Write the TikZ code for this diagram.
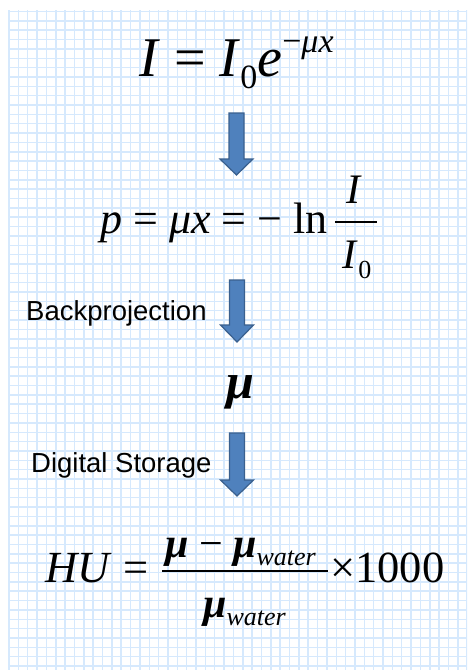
\documentclass[tikz,border=0pt]{standalone}
\usepackage{fontspec}
\setmainfont{Liberation Serif}
\newfontfamily\labelsans{Liberation Sans}
\definecolor{gridblue}{RGB}{214,233,253}
\definecolor{arrowfill}{RGB}{79,129,189}
\definecolor{arrowedge}{RGB}{58,96,142}
\newcommand\DrawDownArrow[4]{% x center, y top, y head start, y tip
  \filldraw[arrowbox] ({#1-7.5},#2) -- ({#1+7.5},#2) -- ({#1+7.5},#3) -- ({#1+16.5},#3)
    -- (#1,#4) -- ({#1-16.5},#3) -- ({#1-7.5},#3) -- cycle;}
\begin{document}
\begin{tikzpicture}[x=1pt,y=-1pt,
  arrowbox/.style={fill=arrowfill,draw=arrowedge,line width=1.2pt,line join=miter},
  gridline/.style={gridblue,line width=1.5pt},
  eqtext/.style={inner sep=0pt,anchor=base west},
  eqcenter/.style={inner sep=0pt,anchor=base},
  sidelabel/.style={inner sep=0pt,anchor=base west,font=\labelsans\fontsize{27.5}{32}\selectfont},
  fracbar/.style={line width=1.1pt,black}]
\useasboundingbox (0,0) rectangle (467,670);
\fill[white] (0,0) rectangle (467,670);
\begin{scope}
  \clip (8,10) rectangle (467,670);
  \foreach \i in {0,...,49} \draw[gridline] ({9+9.35*\i},10) -- ({9+9.35*\i},670);
  \foreach \j in {0,...,71} \draw[gridline] (8,{11.5+9.35*\j}) -- (467,{11.5+9.35*\j});
\end{scope}

% equation 1
\node[eqtext,font=\fontsize{56}{64}\selectfont] (eqone) at (139,76)
  {\textit{I} = \textit{I}\raisebox{-0.22em}{\fontsize{34}{34}\selectfont 0}\textit{e}\raisebox{0.42em}{\fontsize{34}{34}\selectfont −\textit{μx}}};

\DrawDownArrow{236.5}{113}{159}{175}

% equation 2
\node[eqtext,font=\fontsize{44}{52}\selectfont] (eqtwo) at (100,233)
  {\textit{p} = \textit{μx} = − ln};
\draw[fracbar] (335,222) -- (377,222);
\node[eqcenter,font=\fontsize{42}{50}\selectfont] (numI) at (354,203) {\textit{I}};
\node[eqcenter,font=\fontsize{42}{50}\selectfont] (denI) at (357,268)
  {\textit{I}\raisebox{-0.25em}{\fontsize{26}{26}\selectfont 0}};

\node[sidelabel] (backproj) at (26,320) {Backprojection};
\DrawDownArrow{237}{280}{325}{342}

% mu
\node[eqcenter,font=\fontsize{50}{56}\selectfont\bfseries\itshape] (mu) at (240,398) {μ};

\node[sidelabel] (storage) at (31,472) {Digital Storage};
\DrawDownArrow{237}{433}{480}{496}

% equation 4
\node[eqtext,font=\fontsize{44.5}{52}\selectfont] (hu) at (45,582) {\textit{HU} =};
\draw[fracbar] (162,571) -- (328,571);
\node[eqtext,font=\fontsize{42}{50}\selectfont] (numer) at (165,557)
  {\textbf{\textit{μ}} − \textbf{\textit{μ}}\raisebox{-0.2em}{\fontsize{26}{26}\selectfont\textit{water}}};
\node[eqtext,font=\fontsize{42}{50}\selectfont] (denom) at (203,617)
  {\textbf{\textit{μ}}\raisebox{-0.2em}{\fontsize{26}{26}\selectfont\textit{water}}};
\node[eqtext,font=\fontsize{44.5}{52}\selectfont] (times) at (330,582) {×1000};
\end{tikzpicture}
\end{document}
